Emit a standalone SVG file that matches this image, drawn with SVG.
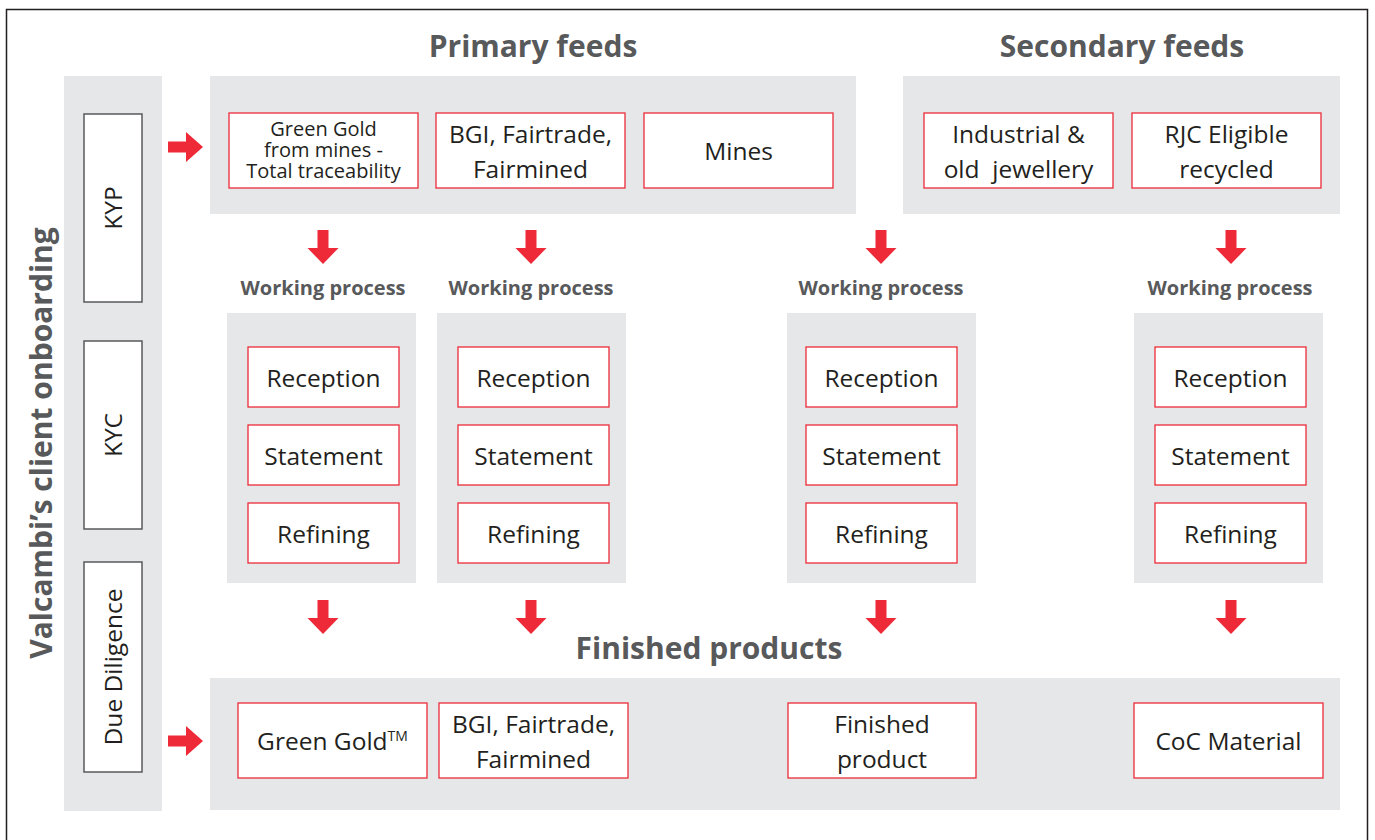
<svg xmlns="http://www.w3.org/2000/svg" xmlns:xlink="http://www.w3.org/1999/xlink" width="1375" height="840" viewBox="0 0 1375 840">
  <style>
    .panel { fill: #e6e7e8; }
    .box { fill: #ffffff; stroke: #ec2c3a; stroke-width: 1.3; }
    .side { fill: #ffffff; stroke: #58595b; stroke-width: 1.5; }
    .arrow { fill: #ee2a38; }
    text { font-family: "Open Sans", "Liberation Sans", sans-serif; }
    .head { font-weight: 700; fill: #58595b; font-size: 30px; text-anchor: middle; }
    .sub { font-weight: 700; fill: #58595b; font-size: 20px; text-anchor: middle; }
    .lbl { fill: #231f20; font-size: 24.5px; text-anchor: middle; }
    .small { fill: #231f20; font-size: 20px; text-anchor: middle; }
  </style>
  <defs>
    <!-- block arrows, drawn from the tail -->
    <path id="arrow-down" d="M-5.5,0 H5.5 V18 H15.5 L0,34 L-15.5,18 H-5.5 Z"/>
    <path id="arrow-right" d="M0,-5.5 H18 V-15 L35,0 L18,15 V5.5 H0 Z"/>
  </defs>

  <rect width="1375" height="840" fill="#ffffff"/>
  <!-- outer frame -->
  <rect x="6.5" y="9.5" width="1361" height="840" fill="none" stroke="#231f20" stroke-width="1.5"/>

  <!-- section headings -->
  <text class="head" x="533" y="57">Primary feeds</text>
  <text class="head" x="1122" y="57">Secondary feeds</text>
  <text class="head" x="709" y="659">Finished products</text>

  <!-- onboarding column -->
  <g id="onboarding">
    <rect class="panel" x="64" y="76" width="98" height="735"/>
    <text x="52" y="443" transform="rotate(-90 52 443)" style="font-weight:700;fill:#58595b;font-size:30px;text-anchor:middle">Valcambi’s client onboarding</text>
  </g>
  <g id="kyp">
    <rect class="side" x="84" y="114" width="58" height="188"/>
    <text class="lbl" x="122" y="208" transform="rotate(-90 122 208)">KYP</text>
  </g>
  <g id="kyc">
    <rect class="side" x="84" y="341" width="58" height="188"/>
    <text class="lbl" x="122" y="435" transform="rotate(-90 122 435)">KYC</text>
  </g>
  <g id="due-diligence">
    <rect class="side" x="84" y="562" width="58" height="210"/>
    <text class="lbl" x="122" y="667" transform="rotate(-90 122 667)">Due Diligence</text>
  </g>

  <!-- feed panels -->
  <g id="primary-feeds">
    <rect class="panel" x="210" y="76" width="646" height="138"/>
  </g>
  <g id="secondary-feeds">
    <rect class="panel" x="903" y="76" width="437" height="138"/>
  </g>
  <g id="feed-green-gold">
    <rect class="box" x="229" y="113" width="189" height="75"/>
    <text class="small" x="323.5" y="136">Green Gold</text>
    <text class="small" x="323.5" y="157">from mines -</text>
    <text class="small" x="323.5" y="178">Total traceability</text>
  </g>
  <g id="feed-bgi">
    <rect class="box" x="436" y="113" width="189" height="75"/>
    <text class="lbl" x="530.5" y="143">BGI, Fairtrade,</text>
    <text class="lbl" x="530.5" y="178">Fairmined</text>
  </g>
  <g id="feed-mines">
    <rect class="box" x="644" y="113" width="189" height="75"/>
    <text class="lbl" x="738.5" y="160">Mines</text>
  </g>
  <g id="feed-industrial">
    <rect class="box" x="924" y="113" width="189" height="75"/>
    <text class="lbl" x="1018.5" y="143">Industrial &amp;</text>
    <text class="lbl" x="1018.5" y="178" xml:space="preserve">old  jewellery</text>
  </g>
  <g id="feed-rjc">
    <rect class="box" x="1132" y="113" width="189" height="75"/>
    <text class="lbl" x="1226.5" y="143">RJC Eligible</text>
    <text class="lbl" x="1226.5" y="178">recycled</text>
  </g>

  <!-- working process columns -->
  <text class="sub" x="323" y="295">Working process</text>
  <text class="sub" x="531" y="295">Working process</text>
  <text class="sub" x="881" y="295">Working process</text>
  <text class="sub" x="1230" y="295">Working process</text>

  <g id="process-1">
    <rect class="panel" x="227" y="313" width="189" height="270"/>
    <rect class="box" x="248" y="347" width="151" height="60"/>
    <text class="lbl" x="323.5" y="387">Reception</text>
    <rect class="box" x="248" y="425" width="151" height="60"/>
    <text class="lbl" x="323.5" y="465">Statement</text>
    <rect class="box" x="248" y="503" width="151" height="60"/>
    <text class="lbl" x="323.5" y="543">Refining</text>
  </g>
  <g id="process-2">
    <rect class="panel" x="437" y="313" width="189" height="270"/>
    <rect class="box" x="458" y="347" width="151" height="60"/>
    <text class="lbl" x="533.5" y="387">Reception</text>
    <rect class="box" x="458" y="425" width="151" height="60"/>
    <text class="lbl" x="533.5" y="465">Statement</text>
    <rect class="box" x="458" y="503" width="151" height="60"/>
    <text class="lbl" x="533.5" y="543">Refining</text>
  </g>
  <g id="process-3">
    <rect class="panel" x="787" y="313" width="189" height="270"/>
    <rect class="box" x="806" y="347" width="151" height="60"/>
    <text class="lbl" x="881.5" y="387">Reception</text>
    <rect class="box" x="806" y="425" width="151" height="60"/>
    <text class="lbl" x="881.5" y="465">Statement</text>
    <rect class="box" x="806" y="503" width="151" height="60"/>
    <text class="lbl" x="881.5" y="543">Refining</text>
  </g>
  <g id="process-4">
    <rect class="panel" x="1134" y="313" width="189" height="270"/>
    <rect class="box" x="1155" y="347" width="151" height="60"/>
    <text class="lbl" x="1230.5" y="387">Reception</text>
    <rect class="box" x="1155" y="425" width="151" height="60"/>
    <text class="lbl" x="1230.5" y="465">Statement</text>
    <rect class="box" x="1155" y="503" width="151" height="60"/>
    <text class="lbl" x="1230.5" y="543">Refining</text>
  </g>

  <!-- finished products -->
  <g id="finished-panel">
    <rect class="panel" x="210" y="678" width="1130" height="132"/>
  </g>
  <g id="product-green-gold">
    <rect class="box" x="238" y="703" width="189" height="75"/>
    <text class="lbl" x="332.5" y="750">Green Gold<tspan font-size="14px" dy="-9">TM</tspan></text>
  </g>
  <g id="product-bgi">
    <rect class="box" x="439" y="703" width="189" height="75"/>
    <text class="lbl" x="533.5" y="733">BGI, Fairtrade,</text>
    <text class="lbl" x="533.5" y="768">Fairmined</text>
  </g>
  <g id="product-finished">
    <rect class="box" x="788" y="703" width="188" height="75"/>
    <text class="lbl" x="882" y="733">Finished</text>
    <text class="lbl" x="882" y="768">product</text>
  </g>
  <g id="product-coc">
    <rect class="box" x="1134" y="703" width="189" height="75"/>
    <text class="lbl" x="1228.5" y="750">CoC Material</text>
  </g>

  <!-- flow arrows -->
  <g id="connectors" class="arrow">
    <use xlink:href="#arrow-right" x="168" y="147"/>
    <use xlink:href="#arrow-right" x="168" y="741"/>
    <use xlink:href="#arrow-down" x="323" y="230"/>
    <use xlink:href="#arrow-down" x="531" y="230"/>
    <use xlink:href="#arrow-down" x="881" y="230"/>
    <use xlink:href="#arrow-down" x="1231" y="230"/>
    <use xlink:href="#arrow-down" x="323" y="600"/>
    <use xlink:href="#arrow-down" x="531" y="600"/>
    <use xlink:href="#arrow-down" x="881" y="600"/>
    <use xlink:href="#arrow-down" x="1231" y="600"/>
  </g>
</svg>
